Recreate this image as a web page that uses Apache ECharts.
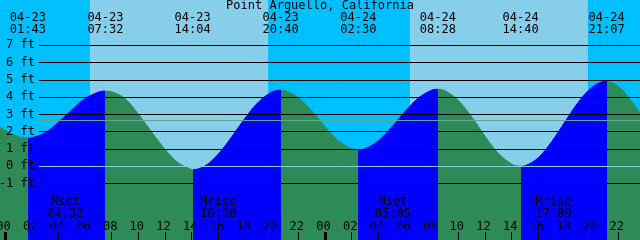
<!DOCTYPE html>
<html>
<head>
<meta charset="utf-8">
<script src="https://cdn.jsdelivr.net/npm/echarts@6/dist/echarts.min.js"></script>
<style>
html,body{margin:0;padding:0;background:#fff;}
#chart{width:640px;height:240px;}
</style>
</head>
<body>
<div id="chart"></div>
<script>
// ---- data (hours counted from 04-23 00:00) ----
const title = 'Point Arguello, California';
const dayNames = ['04-23', '04-24'];
// tide extremes
const eventDay   = [0, 0, 0, 0, 1, 1, 1, 1];
const eventTimes = ['01:43', '07:32', '14:04', '20:40', '02:30', '08:28', '14:40', '21:07'];
const eventKind  = ['L', 'H', 'L', 'H', 'L', 'H', 'L', 'H'];
// tide curve readings (hour, feet)
const tideHours = [-0.375, 0, 1, 1.717, 2, 3, 4, 5, 6, 7, 7.533, 8, 9, 10, 11, 12, 13, 14, 14.067,
  15, 16, 17, 18, 19, 20, 20.667, 21, 22, 23, 24, 25, 26, 26.5, 27, 28, 29, 30, 31, 32, 32.467,
  33, 34, 35, 36, 37, 38, 38.667, 39, 40, 41, 42, 43, 44, 45, 45.117, 46, 47, 47.625];
const tideFeet = [2.28, 2.08, 1.71, 1.63, 1.65, 1.94, 2.54, 3.26, 3.91, 4.29, 4.35, 4.31, 3.92, 3.02, 1.98, 0.98, 0.20, -0.19, -0.20,
  0.02, 0.71, 1.70, 2.78, 3.71, 4.29, 4.40, 4.37, 3.97, 3.21, 2.29, 1.48, 1.01, 0.95, 1.01, 1.47, 2.26, 3.17, 3.95, 4.40, 4.45,
  4.37, 3.81, 2.86, 1.74, 0.75, 0.13, 0.00, 0.03, 0.50, 1.42, 2.58, 3.71, 4.55, 4.90, 4.90, 4.62, 3.75, 3.05];
// sun (day band) and moon events
const sunDay   = [0, 0, 1, 1];
const sunTimes = ['06:22', '19:44', '06:22', '19:43'];
const moonDay   = [0, 0, 1, 1];
const moonNames = ['Mset', 'Mrise', 'Mset', 'Mrise'];
const moonTimes = ['04:32', '16:00', '05:05', '17:09'];
// axis ticks
const footTicks = [-1, 0, 1, 2, 3, 4, 5, 6, 7];
const hourTicks = [0, 2, 4, 6, 8, 10, 12, 14, 16, 18, 20, 22, 24, 26, 28, 30, 32, 34, 36, 38, 40, 42, 44, 46];
const dayStarts = [0, 24];
const meanLevel = 2.66;

// ---- layout / style ----
const XMIN = -0.375, XMAX = 47.625;
const YMIN = -4.264, YMAX = 9.62;
const FONT = 'DejaVu Sans Mono';
const NIGHT = '#00BFFF', DAY = '#87CEEB', FLOOD = '#0000FF', EBB = '#2E8B57';

function toHour(day, hm) { const p = hm.split(':'); return day * 24 + (+p[0]) + (+p[1]) / 60; }
const eventHours = eventTimes.map((t, i) => toHour(eventDay[i], t));
const sunHours = sunTimes.map((t, i) => toHour(sunDay[i], t));
const moonHours = moonTimes.map((t, i) => toHour(moonDay[i], t));
function findIdx(arr, v) { let b = 0; arr.forEach((a, i) => { if (Math.abs(a - v) < Math.abs(arr[b] - v)) b = i; }); return b; }

// pieces: after a low -> rising (flood), after a high -> falling (ebb)
const pieces = [];
let prev = XMIN;
let prevColor = eventKind[0] === 'L' ? EBB : FLOOD;
eventHours.forEach((h, i) => {
  pieces.push({ gte: prev, lt: h, color: prevColor });
  prev = h;
  prevColor = eventKind[i] === 'L' ? FLOOD : EBB;
});
pieces.push({ gte: prev, lte: XMAX, color: prevColor });

const dayBands = [];
for (let i = 0; i < sunHours.length; i += 2) dayBands.push([{ xAxis: sunHours[i] }, { xAxis: sunHours[i + 1] }]);

const chart = echarts.init(document.getElementById('chart'), null, { renderer: 'canvas' });
const txt = { fontFamily: FONT, fontSize: 12, color: '#000' };
const noLine = { show: false, onZero: false };
chart.setOption({
  animation: false,
  backgroundColor: NIGHT,
  title: { text: title, left: 'center', top: 0, padding: 0,
    textStyle: Object.assign({ fontWeight: 'normal', lineHeight: 12 }, txt) },
  grid: [
    { left: 0, right: 0, top: 0, bottom: 0, containLabel: false, outerBoundsMode: 'none' },
    { left: 39, right: 0, top: 0, bottom: 0, containLabel: false, outerBoundsMode: 'none' }
  ],
  visualMap: { show: false, type: 'piecewise', seriesIndex: 2, dimension: 0, pieces: pieces },
  xAxis: [
    { gridIndex: 0, type: 'value', min: XMIN, max: XMAX, position: 'bottom', z: 10,
      axisLine: noLine, splitLine: { show: false },
      axisTick: { show: true, inside: true, length: 8, customValues: hourTicks, lineStyle: { color: '#000', width: 1 } },
      axisLabel: Object.assign({ inside: true, margin: 7, padding: [0, 3, 0, 0], customValues: hourTicks,
        formatter: v => String(Math.round(v) % 24).padStart(2, '0') }, txt) },
    { gridIndex: 0, type: 'value', min: XMIN, max: XMAX, position: 'bottom', z: 10,
      axisLine: noLine, splitLine: { show: false },
      axisTick: { show: true, inside: true, length: 7, customValues: moonHours, lineStyle: { color: '#000', width: 1 } },
      axisLabel: Object.assign({ inside: true, margin: 20, lineHeight: 12, customValues: moonHours,
        formatter: v => { const i = findIdx(moonHours, v); return moonNames[i] + '\n' + moonTimes[i]; } }, txt) },
    { gridIndex: 0, type: 'value', min: XMIN, max: XMAX, position: 'bottom', z: 10,
      axisLine: noLine, splitLine: { show: false },
      axisTick: { show: true, inside: true, length: 8, customValues: dayStarts, lineStyle: { color: '#000', width: 3 } },
      axisLabel: { show: false } },
    { gridIndex: 0, type: 'value', min: XMIN, max: XMAX, position: 'top', z: 10,
      axisLine: noLine, splitLine: { show: false }, axisTick: { show: false },
      axisLabel: Object.assign({ inside: true, margin: 12, lineHeight: 12, customValues: eventHours,
        formatter: v => { const i = findIdx(eventHours, v); return dayNames[eventDay[i]] + '\n' + eventTimes[i]; } }, txt) },
    { gridIndex: 1, type: 'value', min: 0, max: 1, show: false, axisLine: noLine }
  ],
  yAxis: [
    { gridIndex: 0, type: 'value', min: YMIN, max: YMAX, show: false, axisLine: noLine },
    { gridIndex: 1, type: 'value', min: YMIN, max: YMAX, z: 10,
      axisLine: noLine, axisTick: { show: false }, splitLine: { show: false },
      axisLabel: Object.assign({ margin: 4, customValues: footTicks, formatter: v => v + ' ft' }, txt) }
  ],
  series: [
    { name: 'sky', type: 'line', xAxisIndex: 0, yAxisIndex: 0, z: 1, silent: true,
      data: [[XMIN, YMIN]], symbol: 'none', lineStyle: { opacity: 0 },
      markArea: { silent: true, itemStyle: { color: DAY, opacity: 1 }, data: dayBands } },
    { name: 'depth lines', type: 'line', xAxisIndex: 4, yAxisIndex: 1, z: 2, silent: true,
      data: [], markLine: { silent: true, symbol: 'none', label: { show: false },
        lineStyle: { color: '#000', width: 1, type: 'solid' },
        data: footTicks.map(v => ({ yAxis: v })) } },
    { name: 'tide', type: 'line', xAxisIndex: 0, yAxisIndex: 0, z: 3, silent: true,
      smooth: 0.35, symbol: 'none', lineStyle: { width: 1 },
      areaStyle: { opacity: 1, origin: 'start' },
      data: tideHours.map((h, i) => [h, tideFeet[i]]) },
    { name: 'levels', type: 'line', xAxisIndex: 4, yAxisIndex: 1, z: 4, silent: true,
      data: [], markLine: { silent: true, symbol: 'none', label: { show: false },
        data: [
          { yAxis: meanLevel, lineStyle: { color: '#5AA88E', width: 1, type: 'solid' } },
          { yAxis: 0, lineStyle: { color: '#87CEEB', width: 1, type: 'solid' } }
        ] } }
  ]
});
</script>
</body>
</html>
